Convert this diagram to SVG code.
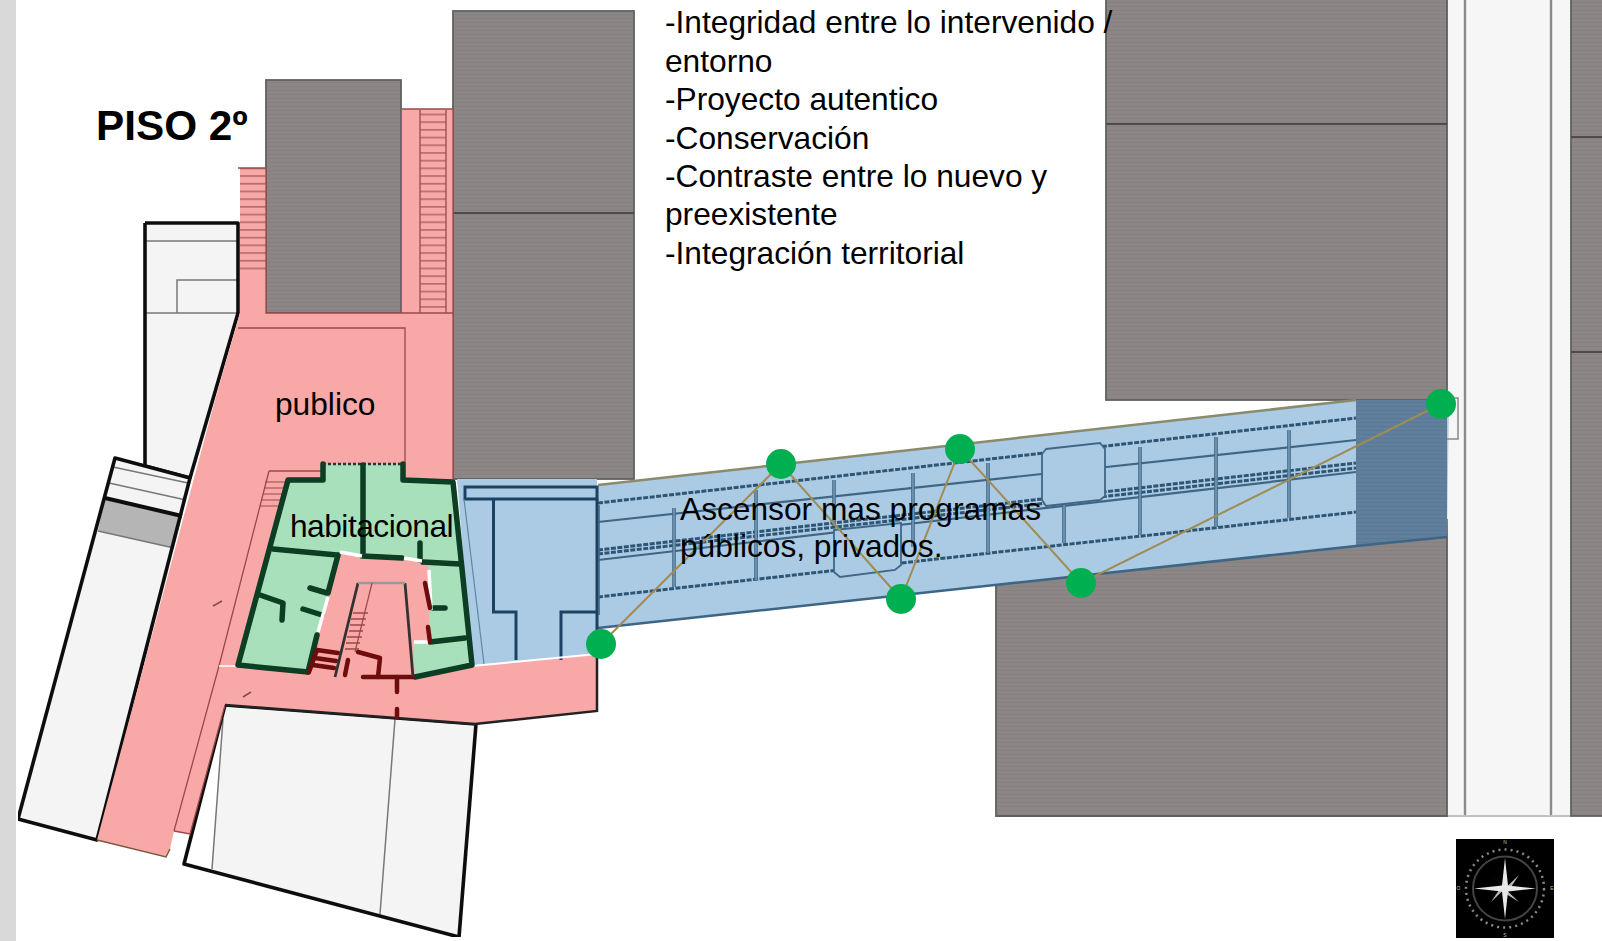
<svg xmlns="http://www.w3.org/2000/svg" width="1602" height="941" viewBox="0 0 1602 941">
<style>
.t{font-family:"Liberation Sans",Arial,sans-serif;fill:#000;font-size:31.700px}
.lite{fill:#f4f4f4}
.blk{fill:none;stroke:#111;stroke-width:3.600;stroke-linejoin:round}
.thin{fill:none;stroke:#777;stroke-width:1.500}
.bld{fill:url(#gr);stroke:#5f625c;stroke-width:1.800}
.gl{stroke:#4f4c4c;stroke-width:2;fill:none}
.wg{fill:none;stroke:#0a3d20;stroke-width:5.500;stroke-linecap:round;stroke-linejoin:round}
.wr{fill:none;stroke:#6e0a0a;stroke-width:4.500;stroke-linecap:round;stroke-linejoin:round}
.ww{fill:none;stroke:#fff;stroke-width:3.500}
.pk{fill:none;stroke:#9a4a4a;stroke-width:1.300}
.bm{fill:none;stroke:#3f6685;stroke-width:2.200}
.bd{fill:none;stroke:#2f5573;stroke-width:3;stroke-dasharray:5 1.500}
.vt{fill:none;stroke:#3f6685;stroke-width:3.600}
.vi{fill:none;stroke:#86a9c6;stroke-width:1.200}
.nv{fill:none;stroke:#1c4263;stroke-width:3}
.dot{fill:#00b050}
.con{fill:none;stroke:#a08c50;stroke-width:2}
</style>
<defs>
<filter id="soft" x="0" y="0" width="1" height="1"><feGaussianBlur stdDeviation="0.6"/></filter>
<pattern id="gr" width="8" height="4" patternUnits="userSpaceOnUse"><rect width="8" height="4" fill="#8c8786"/><rect y="2" width="8" height="1" fill="#868180"/></pattern>
<pattern id="st" width="8" height="7.700" patternUnits="userSpaceOnUse"><rect width="8" height="7.700" fill="#f9a8a8"/><rect y="6" width="8" height="1.300" fill="#a65a5a"/></pattern>
<pattern id="dk" width="8" height="4" patternUnits="userSpaceOnUse"><rect width="8" height="4" fill="#5f7f9d"/><rect y="2" width="8" height="1" fill="#5a7995"/></pattern>
</defs>
<rect width="1602" height="941" fill="#fff"/>
<rect width="16" height="941" fill="#d9d9d9"/>
<g filter="url(#soft)">
<g id="road"><rect x="1447" y="0" width="124" height="816" fill="#f6f6f6"/>
<path d="M1465 0V816M1551 0V816" stroke="#8a8a8a" stroke-width="2.400" fill="none"/>
<path d="M1447 816H1571" stroke="#bcc4bc" stroke-width="2"/></g>
<g id="buildings">
<rect class="bld" x="453" y="11" width="181" height="468"/><path class="gl" d="M453 213H634"/>
<rect class="bld" x="266" y="80" width="135" height="233"/>
<rect class="bld" x="1106" y="-2" width="341" height="402"/><path class="gl" d="M1106 124H1447"/>
<path class="bld" d="M996 570L1447 520V816H996Z"/>
<rect class="bld" x="1571" y="-2" width="33" height="818"/><path class="gl" d="M1571 137H1602M1571 352H1602"/>
</g>
<g id="edificios-izq">
<path class="lite" d="M145 223H238V313L190 478L145 466Z"/>
<path class="thin" d="M145 241H238M145 313H238M177 313V280H238"/>
<path class="blk" d="M145 223H238V313L190 478M145 223V478H190M145 466L190 478"/>
<path class="lite" d="M115 458L190 478L97 840L18 819Z"/>
<path d="M105 498L182 516L174 548L98 531Z" fill="#b5b5b5"/>
<path class="thin" d="M113 467L188 483M109 483L186 500M98 531L174 548"/>
<path d="M105 498L182 516" stroke="#111" stroke-width="4"/>
<path class="blk" d="M115 458L190 478L97 840L18 819Z"/>
<path class="lite" d="M223 719L225 705L476 724L459 937L212 869Z"/>
<path class="thin" d="M223 719L212 869M395 719L380 914"/>
<path class="blk" d="M225 705L476 724L459 937L184 864Z"/>
</g>
<g id="publico">
<path fill="#f9a8a8" d="M240 168H266V313H402V109H453V479L472 666L597 654V711L475 724L225 705L190 834L174 831L170 849L166 857L97 840L215 400L240 313Z"/>
<rect x="240" y="168" width="26" height="106" fill="url(#st)"/>
<rect x="420" y="110" width="26" height="203" fill="url(#st)"/>
<path class="pk" d="M420 110V313M446 110V313M402 109H453M453 109V479M266 168V313H453M238 168H266"/>
<path class="pk" d="M238 328H405V463M269 471H322M269 471L219 666L174 831M174 831L190 834L225 705"/>
<path d="M170 849L166 857L97 840" stroke="#7a5a40" stroke-width="1.500" fill="none"/>
<path d="M265 482H287M264 488H285M263 494H283M261 500H281M260 506H279" stroke="#9a4a4a" stroke-width="1.200"/>
<path d="M213 606L222 601M243 697L251 692" stroke="#8a4a4a" stroke-width="1.500"/>
<path d="M219 666H236" stroke="#fff" stroke-width="1.500"/>
<path d="M597 654V711L475 724L225 705" fill="none" stroke="#222" stroke-width="2.500"/>
</g>
<g id="puente">
<path d="M598 485L1356 400V546L598 628Z" fill="#abcbe5"/>
<path d="M1356 400H1449L1447 537L1356 546Z" fill="#abcbe5"/>
<path d="M1356 400H1447V537L1356 546Z" fill="url(#dk)"/>
<path d="M598 485L1356 400" stroke="#8a8a6c" stroke-width="2.500" fill="none"/>
<path d="M598 628L1356 546L1447 537" stroke="#3d6585" stroke-width="2.500" fill="none"/>
<path d="M1447 398H1458V439H1447" fill="none" stroke="#888" stroke-width="1.500"/>
<path class="bd" d="M598 503L1356 418M598 550L1356 463M598 554L1356 468M598 597L1356 512"/>
<path class="bm" d="M598 522L1356 440M598 560L1356 472"/>
<path class="vt" d="M598 505V615M674 508V587M756 490V580M834 480V526M913 473V547M988 463V553M1064 503V543M1140 447V535M1216 437V527M1289 430V518"/>
<path class="vi" d="M598 505V615M674 508V587M756 490V580M834 480V526M913 473V547M988 463V553M1064 503V543M1140 447V535M1216 437V527M1289 430V518"/>
<path d="M1046 449L1100 443L1105 449V496L1100 500L1046 506L1042 500V454Z" fill="#abcbe5" stroke="#3f6685" stroke-width="1.800"/>
<path d="M834 530L901 523V565L895 570L840 577L834 572Z" fill="#abcbe5" stroke="#3f6685" stroke-width="1.800"/>
</g>
<g id="volumen-azul">
<path d="M457 479H597V654L472 666Z" fill="#abcbe5"/>
<rect class="nv" x="465" y="487" width="132" height="12"/>
<path class="nv" d="M493.500 499V612H516V660M561 660V612H597V650M597 499V612"/>
<path d="M464 499L484 664" stroke="#5f86a5" stroke-width="1.200" fill="none"/>
<path d="M472 666L597 654" stroke="#fff" stroke-width="2" fill="none"/>
</g>
<g id="habitacional">
<path fill="#a9e0bc" d="M288 480H323V464H403V480L453 482L472 665L415 677L308 672L238 665Z"/>
<path fill="#f9a8a8" d="M340 552L428 560L430 642H413L415 677L335 677L308 673Z"/>
<path class="wg" d="M403 464V480L453 482L472 665L415 677M323 464V480H288L238 665L308 672"/>
<path d="M323 464H403" stroke="#333" stroke-width="2.500" stroke-dasharray="3 2" fill="none"/>
<path class="wg" d="M363 465V553M273 549L337 555M338 555L328 593M362 556L402 558M420 543V560M423 562L460 564M430 642L465 638M260 595L283 603L282 620M310 588L327 593M433 608H445M317 635L308 672"/>
<path class="wg" stroke-width="9" d="M303 609L322 615"/>
<path class="ww" d="M340 552L362 556M404 558L422 561M429 570L431 610M328 597L318 632M414 642H428"/>
<path class="wr" d="M425 583L430 608M428 627L430 642M358 652L380 658L378 677M317 650L338 653M315 658L336 661M313 665L334 668M348 660L345 675M317 650L309 672"/>
<path class="wr" stroke-width="6" d="M363 677L413 677"/>
<path class="wr" d="M397 677V692M397 709V717"/>
<path d="M358 583L335 677M405 583L413 677" stroke="#333" stroke-width="2.800" fill="none"/>
<path d="M358 583H405" stroke="#999" stroke-width="2.500" fill="none"/>
<path d="M372 583L355 652" stroke="#9a4a4a" stroke-width="1.200"/>
<path d="M353 613H368M351 619H366M350 625H365M349 631H363M347 637H362M346 643H360M345 649H359" stroke="#9a4a4a" stroke-width="1.300"/>
</g>
</g>
<g id="conectores">
<path class="con" d="M601 644L781 464L901 599L960 449L1081 583L1441 404"/>
</g>
<g id="n1"><circle class="dot" cx="601" cy="644" r="15"/></g>
<g id="n2"><circle class="dot" cx="781" cy="464" r="15"/></g>
<g id="n3"><circle class="dot" cx="901" cy="599" r="15"/></g>
<g id="n4"><circle class="dot" cx="960" cy="449" r="15"/></g>
<g id="n5"><circle class="dot" cx="1081" cy="583" r="15"/></g>
<g id="n6"><circle class="dot" cx="1441" cy="404" r="15"/></g>
<g id="brujula">
<rect x="1456" y="839" width="98" height="99" fill="#000"/>
<circle cx="1505" cy="888.500" r="32" fill="none" stroke="#444" stroke-width="2"/>
<circle cx="1505" cy="888.500" r="39" fill="none" stroke="#888" stroke-width="2.500" stroke-dasharray="2 4.100"/>
<path d="M1505 888.500L1519 875L1508 891.500L1519 902L1502 891.500L1491 902L1502 885.500L1491 875Z" fill="#b8b8b8"/>
<path d="M1505 858L1508 885.500L1536 888.500L1508 891.500L1505 919L1502 891.500L1474 888.500L1502 885.500Z" fill="#e8e8e8"/>
<g font-family="Liberation Sans, sans-serif" font-size="5" fill="#bbb" text-anchor="middle"><text x="1505" y="844">N</text><text x="1505" y="937">S</text><text x="1458.500" y="890">O</text><text x="1552" y="890">E</text></g>
</g>
<g id="textos">
<text class="t" x="96" y="140" font-weight="700" style="font-size:42.300px">PISO 2º</text>
<text class="t" x="665" y="33">-Integridad entre lo intervenido /</text>
<text class="t" x="665" y="71.500">entorno</text>
<text class="t" x="665" y="110">-Proyecto autentico</text>
<text class="t" x="665" y="148.500">-Conservación</text>
<text class="t" x="665" y="187">-Contraste entre lo nuevo y</text>
<text class="t" x="665" y="225">preexistente</text>
<text class="t" x="665" y="264">-Integración territorial</text>
<text class="t" x="275" y="415">publico</text>
<text class="t" x="290" y="537" letter-spacing="-0.500">habitacional</text>
<text class="t" x="680" y="520">Ascensor mas programas</text>
<text class="t" x="680" y="557">públicos, privados.</text>
</g>
</svg>
